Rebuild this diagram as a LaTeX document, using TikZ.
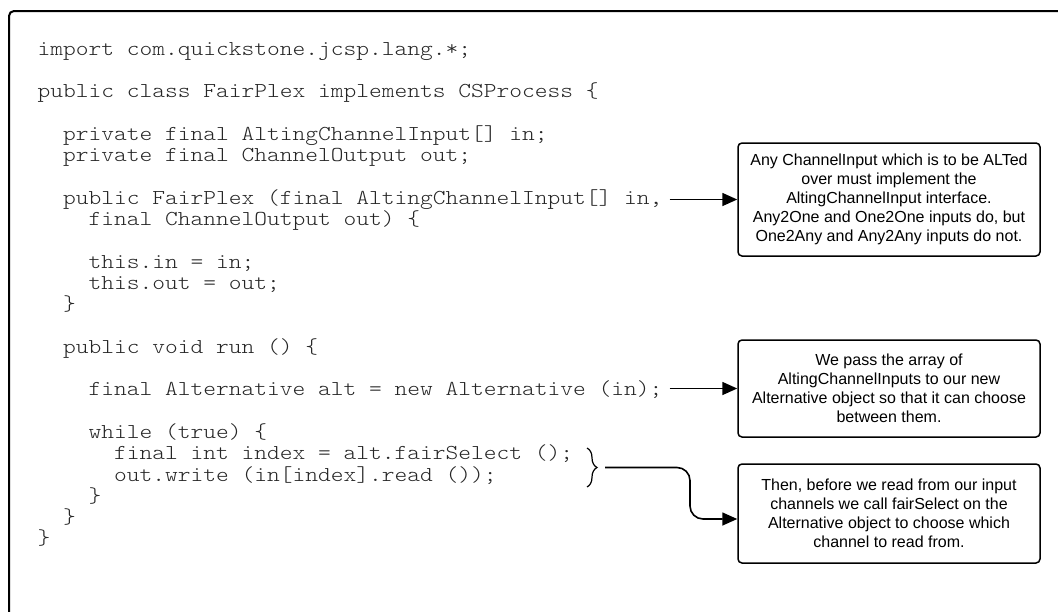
\documentclass[tikz,border=0pt]{standalone}
\usepackage{graphicx}
\usepackage{fontspec}
\setmainfont{Liberation Sans}
\usetikzlibrary{arrows.meta,decorations.pathreplacing}

% character cell width and line pitch of the listing
\def\cw{12.75}
\def\lh{21.3}
% typewriter glyphs widened to a 12.75pt cell
\newcommand\jline[1]{\scalebox{1.1429}[1]{#1}}

\begin{document}
\begin{tikzpicture}[x=1pt,y=-1pt,
  code/.style={anchor=base west, inner sep=0pt, text=black!85,
    font=\ttfamily\fontseries{l}\fontsize{21.25pt}{21.3pt}\selectfont},
  note/.style={draw, line width=1.5pt, rounded corners=4pt, fill=white,
    minimum width=302pt, align=center, inner sep=0pt,
    font=\fontsize{16pt}{19.1pt}\selectfont},
  link/.style={line width=1.6pt, -{Triangle[length=15pt,width=13pt]}},
  frame/.style={line width=2pt, rounded corners=5pt},
  bracemark/.style={line width=1.2pt, decorate,
    decoration={brace, amplitude=10pt, aspect=0.5}}]

\useasboundingbox (0,0) rectangle (1058,611);

% outer frame, running off the right and bottom edges
\draw[frame] (9,11) rectangle (1080,640);

% Java listing, one node per line
\node[code] (l0)  at ({37.5+0*\cw},{55+0*\lh})  {\jline{import com.quickstone.jcsp.lang.*;}};
\node[code] (l2)  at ({37.5+0*\cw},{55+2*\lh})  {\jline{public class FairPlex implements CSProcess \{}};
\node[code] (l4)  at ({37.5+2*\cw},{55+4*\lh})  {\jline{private final AltingChannelInput[] in;}};
\node[code] (l5)  at ({37.5+2*\cw},{55+5*\lh})  {\jline{private final ChannelOutput out;}};
\node[code] (l7)  at ({37.5+2*\cw},{55+7*\lh})  {\jline{public FairPlex (final AltingChannelInput[] in,}};
\node[code] (l8)  at ({37.5+4*\cw},{55+8*\lh})  {\jline{final ChannelOutput out) \{}};
\node[code] (l10) at ({37.5+4*\cw},{55+10*\lh}) {\jline{this.in = in;}};
\node[code] (l11) at ({37.5+4*\cw},{55+11*\lh}) {\jline{this.out = out;}};
\node[code] (l12) at ({37.5+2*\cw},{55+12*\lh}) {\jline{\}}};
\node[code] (l14) at ({37.5+2*\cw},{55+14*\lh}) {\jline{public void run () \{}};
\node[code] (l16) at ({37.5+4*\cw},{55+16*\lh}) {\jline{final Alternative alt = new Alternative (in);}};
\node[code] (l18) at ({37.5+4*\cw},{55+18*\lh}) {\jline{while (true) \{}};
\node[code] (l19) at ({37.5+6*\cw},{55+19*\lh}) {\jline{final int index = alt.fairSelect ();}};
\node[code] (l20) at ({37.5+6*\cw},{55+20*\lh}) {\jline{out.write (in[index].read ());}};
\node[code] (l21) at ({37.5+4*\cw},{55+21*\lh}) {\jline{\}}};
\node[code] (l22) at ({37.5+2*\cw},{55+22*\lh}) {\jline{\}}};
\node[code] (l23) at ({37.5+0*\cw},{55+23*\lh}) {\jline{\}}};

% explanatory notes
\node[note, minimum height=113pt] (box1) at (889,199.5)
  {Any ChannelInput which is to be ALTed\\over must implement the\\AltingChannelInput interface.\\Any2One and One2One inputs do, but\\One2Any and Any2Any inputs do not.};
\node[note, minimum height=97pt] (box2) at (889,388.5)
  {We pass the array of\\AltingChannelInputs to our new\\Alternative object so that it can choose\\between them.};
\node[note, minimum height=99pt] (box3) at (889,513.5)
  {Then, before we read from our input\\channels we call fairSelect on the\\Alternative object to choose which\\channel to read from.};

% brace grouping the two loop statements
\draw[bracemark] (587,448) -- (587,487);
\coordinate (braceTip) at (605,467.5);
\coordinate (drop) at (690,519);

% connectors
\draw[link] ([xshift=7pt]l7.east |- box1.west) -- (box1.west);
\draw[link] ([xshift=7pt]l16.east |- box2.west) -- (box2.west);
\draw[link, rounded corners=13pt] (braceTip) -| (drop) -- (drop -| box3.west);
\end{tikzpicture}
\end{document}
